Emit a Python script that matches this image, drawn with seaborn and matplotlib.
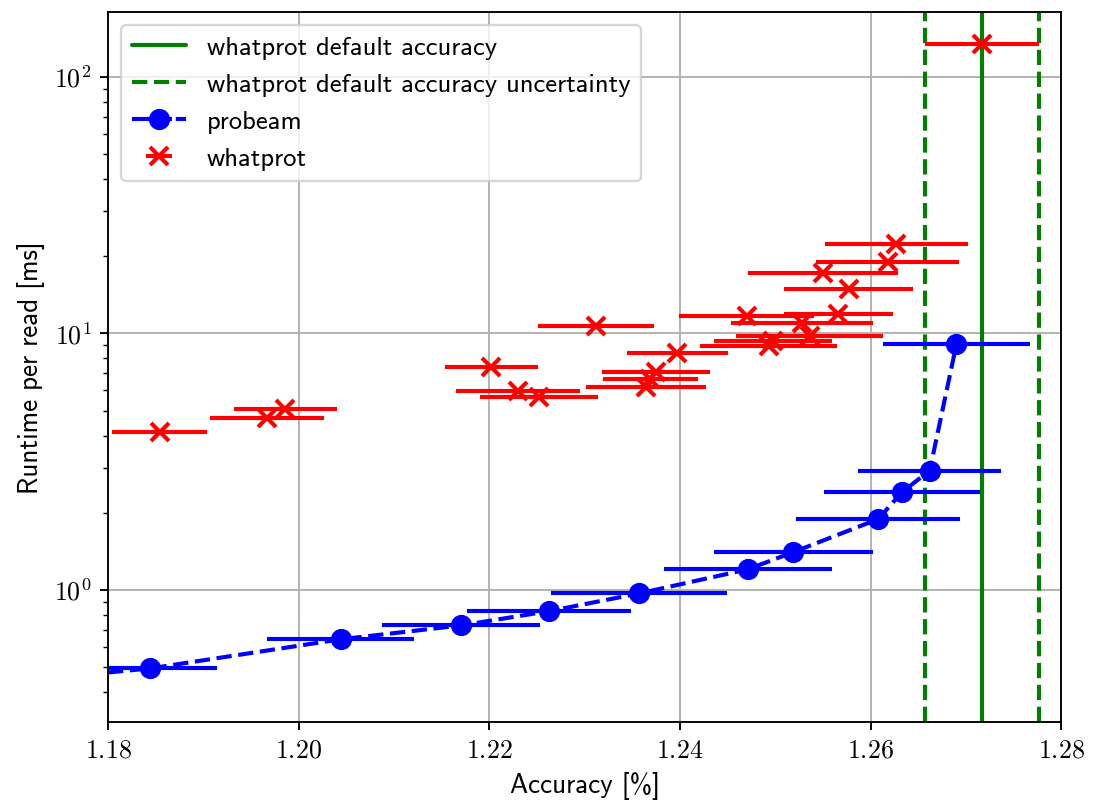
import numpy as np
import seaborn as sns
import matplotlib.pyplot as plt

# probeam runs: accuracy, its uncertainty, runtime per read
probeam_acc = [1.1615, 1.1844, 1.2044, 1.2170, 1.2263, 1.2357, 1.2471, 1.2519, 1.2608, 1.2633, 1.2662, 1.2690]
probeam_err = [0.0075, 0.0070, 0.0077, 0.0083, 0.0086, 0.0092, 0.0088, 0.0083, 0.0086, 0.0082, 0.0075, 0.0077]
probeam_runtime = [0.41, 0.495, 0.643, 0.728, 0.828, 0.970, 1.204, 1.406, 1.891, 2.41, 2.92, 9.06]

# whatprot runs
whatprot_acc = [1.1854, 1.1967, 1.1986, 1.2202, 1.2230, 1.2252, 1.2312, 1.2364, 1.2375, 1.2369, 1.2397,
                1.2493, 1.2498, 1.2536, 1.2470, 1.2566, 1.2528, 1.2577, 1.2550, 1.2618, 1.2627, 1.2717]
whatprot_err = [0.0050, 0.0060, 0.0054, 0.0049, 0.0065, 0.0062, 0.0061, 0.0063, 0.0057, 0.0050, 0.0053,
                0.0072, 0.0062, 0.0077, 0.0071, 0.0057, 0.0074, 0.0068, 0.0079, 0.0075, 0.0075, 0.0060]
whatprot_runtime = [4.14, 4.69, 5.06, 7.40, 5.95, 5.66, 10.68, 6.20, 7.10, 6.66, 8.43,
                    8.92, 9.36, 9.79, 11.72, 11.93, 11.0, 14.93, 17.13, 19.0, 22.4, 134.9]

default_acc = 1.2717
default_acc_err = 0.0060


def main():
    sns.set_theme(style='ticks', rc={
        'axes.edgecolor': 'black', 'axes.linewidth': 0.8,
        'xtick.color': 'black', 'ytick.color': 'black',
        'xtick.major.size': 3.5, 'ytick.major.size': 3.5, 'ytick.minor.size': 2,
        'xtick.major.width': 0.8, 'ytick.major.width': 0.8, 'ytick.minor.width': 0.6,
        'font.size': 11, 'axes.labelsize': 11.5, 'xtick.labelsize': 11, 'ytick.labelsize': 11,
        'legend.fontsize': 11.3,
        'grid.color': '#b0b0b0', 'grid.linewidth': 0.8,
        'mathtext.fontset': 'cm', 'axes.formatter.use_mathtext': True,
        'axes.unicode_minus': False,
        'text.color': 'black', 'axes.labelcolor': 'black',
    })
    # serif tick labels like a LaTeX render, sans for labels and legend
    plt.rcParams['font.family'] = ['cmr10']

    fig = plt.figure(figsize=(1098 / 170, 800 / 170), dpi=170)
    ax = fig.add_axes([0.0985, 0.097, 0.868, 0.888])

    ax.axvline(default_acc, color='green', lw=1.75, label='whatprot default accuracy')
    ax.axvline(default_acc - default_acc_err, color='green', lw=1.75, ls='--',
               label='whatprot default accuracy uncertainty')
    ax.axvline(default_acc + default_acc_err, color='green', lw=1.75, ls='--')

    ax.errorbar(probeam_acc, probeam_runtime, xerr=probeam_err, fmt='o--', color='blue',
                lw=1.75, elinewidth=1.75, ms=8, label='probeam')
    ax.errorbar(whatprot_acc, whatprot_runtime, xerr=whatprot_err, fmt='x', color='red',
                elinewidth=1.75, ms=8, mew=1.75, label='whatprot')

    ax.set_yscale('log')
    ax.set_xlim(1.18, 1.28)
    ax.set_ylim(0.305, 179)
    ax.set_xticks([1.18, 1.20, 1.22, 1.24, 1.26, 1.28])
    ax.grid(True, which='major')
    ax.set_xlabel('Accuracy [%]', family='cmss10')
    ax.set_ylabel('Runtime per read [ms]', family='cmss10')
    ax.legend(loc='upper left', frameon=True, fancybox=True, framealpha=0.8, edgecolor='0.8',
              prop={'family': 'cmss10', 'size': 11.3})

    fig.savefig('out.png', dpi=170)


if __name__ == '__main__':
    main()
